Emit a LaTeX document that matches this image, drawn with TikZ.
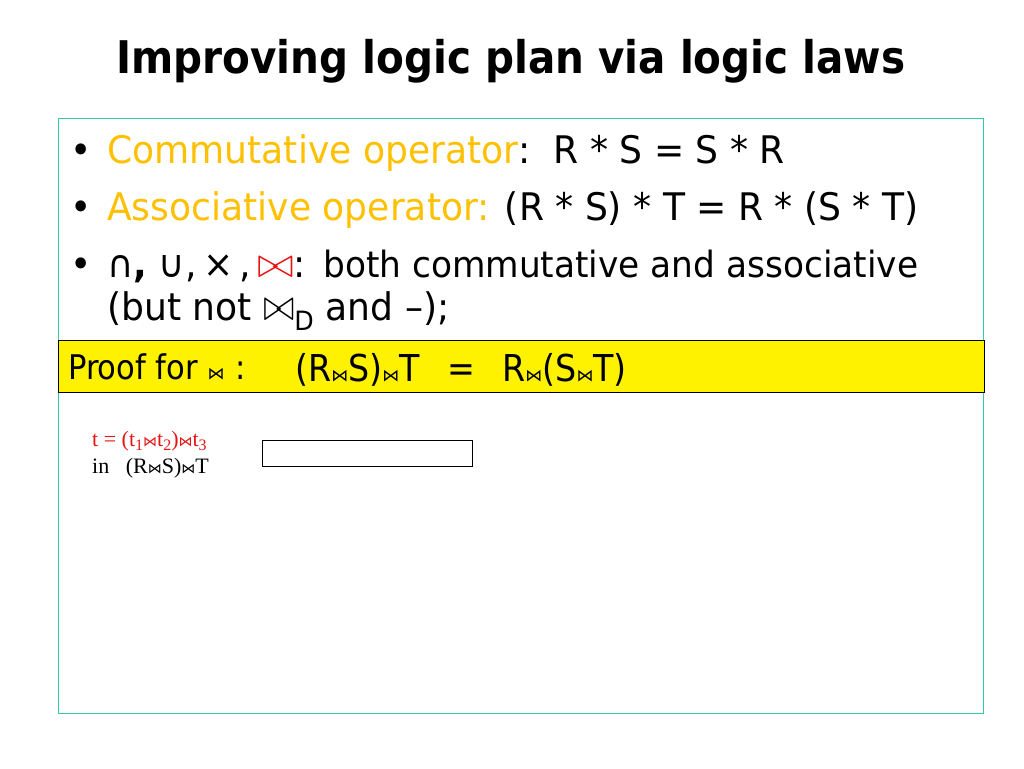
\documentclass[tikz,border=0pt]{standalone}
\usepackage{fontspec}
\setmainfont[FakeStretch=0.95]{DejaVu Sans}
\newfontfamily\condfont{DejaVu Sans Condensed}
\newfontfamily\plainfont{DejaVu Sans}
\newfontfamily\seriffont{Liberation Serif}
\definecolor{tealb}{RGB}{51,204,170}
\definecolor{goldtxt}{RGB}{255,192,0}
\definecolor{joinred}{RGB}{230,20,20}
\tikzset{
  txt/.style={inner sep=0pt, anchor=base west, font=\fontsize{38}{44}\selectfont},
  bul/.style={inner sep=0pt, anchor=base west, font=\fontsize{38}{44}\selectfont},
  small/.style={inner sep=0pt, anchor=base west, font=\seriffont\fontsize{22}{25}\selectfont},
}
\newcommand{\yjoin}{\resizebox{17pt}{!}{\plainfont ⋈}}
\newcommand{\sjoinb}{\resizebox{14pt}{!}{\plainfont ⋈}}
\newcommand{\bigjoin}[2]{\resizebox{#1}{#2}{$\bowtie$}}
\newcommand{\sub}[1]{\raisebox{-4pt}{\fontsize{16}{16}\selectfont #1}}
\begin{document}
\begin{tikzpicture}[x=1pt,y=-1pt]
\useasboundingbox (0,0) rectangle (1024,768);
\fill[white] (0,0) rectangle (1024,768);
% title
\node[inner sep=0pt, anchor=base, font=\condfont\bfseries\fontsize{45}{52}\selectfont] (title) at (511,73) {Improving logic plan via logic laws};
% outer frame
\node[draw=tealb, line width=1.2pt, inner sep=0pt, minimum width=925pt, minimum height=595pt, anchor=north west] (frame) at (58,118) {};
% bullets
\node[bul] (b1) at (70,163) {•};
\node[txt] (l1) at (107,163) {\textcolor{goldtxt}{Commutative operator}:\ \ R * S = S * R};
\node[bul] (b2) at (70,220) {•};
\node[txt] (l2) at (107,220) {\textcolor{goldtxt}{Associative operator:} (R * S) * T = R * (S * T)};
\node[bul] (b3) at (70,277) {•};
\node[txt] (l3) at (107,277) {∩\textbf{,} ∪,\,×\,,\,\textcolor{joinred}{\bigjoin{36pt}{20pt}}:};
\node[txt] (l3b) at (323,277) {\resizebox{595pt}{!}{both commutative and associative}};
\node[txt] (l4) at (107,320) {(but not \bigjoin{31pt}{21pt}\textsubscript{D} and –);};
% yellow box
\node[draw=black, fill=yellow, line width=1.2pt, inner sep=0pt, minimum width=926pt, minimum height=52pt, anchor=north west] (ybox) at (58,340) {};
\node[inner sep=0pt, anchor=base west, font=\condfont\fontsize{34}{40}\selectfont] (proof) at (68,379) {Proof for \yjoin\,\,:};
\node[inner sep=0pt, anchor=base west, font=\condfont\fontsize{37}{42}\selectfont] (eq) at (295,381) {(R\yjoin S)\yjoin T \ \,= \ \,R\yjoin(S\yjoin T)};
% small text
\node[small, text=joinred] (t1) at (92,446) {t = (t\sub{1}\sjoinb t\sub{2})\sjoinb t\sub{3}};
\node[small] (t2) at (92,473) {in\ \ \ (R\sjoinb S)\sjoinb T};
% empty rectangle
\node[draw=black, line width=1.2pt, inner sep=0pt, minimum width=210pt, minimum height=26pt, anchor=north west] (rect) at (262,440) {};
\end{tikzpicture}
\end{document}
